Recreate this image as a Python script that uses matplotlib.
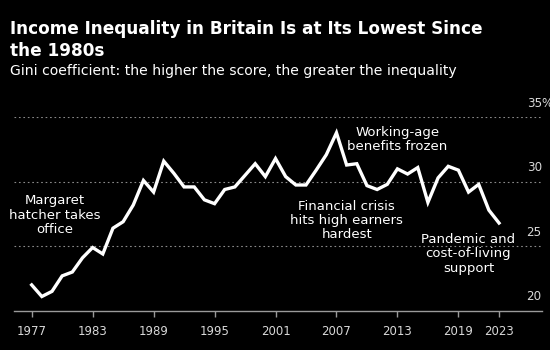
import matplotlib
matplotlib.use("Agg")
import matplotlib.pyplot as plt
import matplotlib.transforms as mtransforms

# UK Gini coefficient (%)
years = list(range(1977, 2024))
gini = [22.0, 21.1, 21.5, 22.7, 23.0, 24.1, 24.9, 24.4, 26.4, 26.9,
        28.2, 30.1, 29.2, 31.6, 30.65, 29.6, 29.6, 28.6, 28.3, 29.4,
        29.6, 30.5, 31.4, 30.4, 31.8, 30.4, 29.75, 29.75, 30.9, 32.1,
        33.8, 31.3, 31.4, 29.7, 29.4, 29.8, 31.0, 30.6, 31.1, 28.4,
        30.3, 31.2, 30.9, 29.2, 29.8, 27.8, 26.8]

xticks = [1977, 1983, 1989, 1995, 2001, 2007, 2013, 2019, 2023]
yticks = [20, 25, 30, 35]

# annotations: (text, year, value)
notes = [
    ("Margaret\nhatcher takes\noffice", 1979.3, 27.4),
    ("Working-age\nbenefits frozen", 2013.0, 33.3),
    ("Financial crisis\nhits high earners\nhardest", 2008.0, 27.0),
    ("Pandemic and\ncost-of-living\nsupport", 2020.0, 24.4),
]

bg = "black"
fig = plt.figure(figsize=(5.5, 3.5), dpi=100, facecolor=bg)
plt.rcParams["font.family"] = "DejaVu Sans"

fig.text(10 / 550, 1 - 20 / 350,
         "Income Inequality in Britain Is at Its Lowest Since\nthe 1980s",
         color="white", fontsize=12.2, fontweight="bold", va="top", ha="left",
         linespacing=1.32)
fig.text(10 / 550, 1 - 64 / 350,
         "Gini coefficient: the higher the score, the greater the inequality",
         color="white", fontsize=10.1, va="top", ha="left")

ax = fig.add_axes([14 / 550, 1 - 310.7 / 350, 527.7 / 550, 193.4 / 350])
ax.set_facecolor(bg)
ax.set_xlim(1975.26, 2027.2)
ax.set_ylim(20, 35)

for y in yticks[1:]:
    ax.axhline(y, color="#8a8a8a", lw=0.8, ls=(0, (1.5, 2.5)), zorder=1)
ax.plot(years, gini, color="white", lw=2.4, solid_joinstyle="miter", zorder=3)

for s in ["top", "right", "left"]:
    ax.spines[s].set_visible(False)
ax.spines["bottom"].set_color("#9a9a9a")
ax.spines["bottom"].set_linewidth(1.0)

ax.set_xticks(xticks)
ax.set_xticklabels([str(t) for t in xticks])
ax.tick_params(axis="x", colors="#9a9a9a", labelcolor="#d8d8d8", length=4,
               width=1.0, pad=6.5, labelsize=8.5)
ax.set_yticks([])

# y labels sit just above their gridlines, right aligned
off = mtransforms.offset_copy(ax.get_yaxis_transform(), fig=fig, x=0, y=10, units="points")
for y in yticks:
    ax.text(1.0, y, str(y), transform=off, ha="right", va="center",
            color="#d8d8d8", fontsize=8.6)
ax.text(1.0, 35, "%", transform=off, ha="left", va="center",
        color="#d8d8d8", fontsize=8.6, clip_on=False)

for txt, x, y in notes:
    ax.text(x, y, txt, ha="center", va="center", color="white",
            fontsize=9.5, linespacing=1.14)

fig.savefig("out.png", dpi=100, facecolor=bg)
